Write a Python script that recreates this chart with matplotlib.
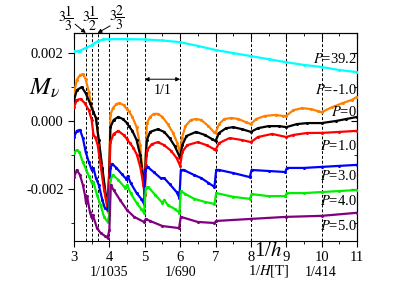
import numpy as np
import matplotlib
matplotlib.use("Agg")
import matplotlib.pyplot as plt
from matplotlib.ticker import MultipleLocator, FixedLocator

plt.rcParams['font.family'] = ['Liberation Serif', 'DejaVu Serif']
plt.rcParams['mathtext.fontset'] = 'stix'

# values, M in units of 1e-3
x_cyan = [3.0, 3.1, 3.17, 3.33, 3.5, 3.67, 3.83, 4.0, 4.5, 5.0, 5.5, 6.0, 6.5, 7.0, 7.5, 8.0, 8.5, 9.0, 9.5, 10.0, 10.5, 11.0]
m_cyan = [2.06, 2.05, 2.07, 2.15, 2.23, 2.35, 2.40, 2.41, 2.41, 2.40, 2.37, 2.32, 2.21, 2.09, 2.00, 1.91, 1.82, 1.73, 1.65, 1.59, 1.50, 1.44]

x_orange = [3.0, 3.08, 3.17, 3.25, 3.33, 3.42, 3.5, 3.55, 3.62, 3.7, 3.8, 3.9, 3.95, 3.99,
            4.03, 4.1, 4.2, 4.28, 4.4, 4.5, 4.55, 4.65, 4.77, 4.87, 4.95, 5.0,
            5.03, 5.06, 5.15, 5.25, 5.37, 5.5, 5.65, 5.8, 5.92, 6.0,
            6.05, 6.15, 6.3, 6.45, 6.6, 6.8, 6.95, 7.0,
            7.1, 7.25, 7.45, 7.65, 7.85, 8.0, 8.15, 8.4, 8.7, 8.9, 9.0,
            9.2, 9.45, 9.7, 9.9, 10.0, 10.3, 10.6, 10.85, 11.0]
m_orange = [0.82, 1.21, 1.35, 1.38, 1.23, 0.85, 0.38, 0.26, 0.09, -0.56, -1.44, -2.32, -2.68, -1.60,
            0.18, 0.38, 0.50, 0.53, 0.47, 0.35, 0.29, 0.12, -0.18, -0.71, -1.59, -2.12,
            -1.00, -0.06, 0.12, 0.21, 0.21, 0.12, -0.09, -0.35, -0.65, -0.94,
            -0.50, -0.15, 0.03, 0.06, 0.03, -0.15, -0.32, -0.35,
            -0.09, 0.06, 0.09, 0.06, -0.03, -0.09, 0.06, 0.15, 0.18, 0.15, 0.15,
            0.32, 0.38, 0.35, 0.29, 0.26, 0.41, 0.53, 0.62, 0.71]

x_black = [3.0, 3.08, 3.22, 3.33, 3.45, 3.55, 3.62, 3.7, 3.8, 3.9, 3.95, 4.0,
           4.03, 4.12, 4.25, 4.38, 4.5, 4.55, 4.65, 4.77, 4.87, 4.95, 5.0,
           5.03, 5.06, 5.15, 5.37, 5.55, 5.7, 5.85, 6.0,
           6.06, 6.18, 6.45, 6.7, 6.9, 7.0, 7.1, 7.3, 7.5, 7.75, 8.0,
           8.2, 8.5, 8.8, 9.0, 9.3, 9.6, 10.0, 10.4, 10.7, 11.0]
m_black = [0.62, 0.91, 1.00, 0.82, 0.53, 0.26, 0.09, -0.56, -1.38, -2.18, -2.47, -1.44,
           -0.18, 0.03, 0.12, 0.06, -0.06, -0.15, -0.29, -0.56, -1.00, -1.59, -1.97,
           -1.00, -0.56, -0.32, -0.24, -0.32, -0.50, -0.74, -1.09,
           -0.71, -0.44, -0.32, -0.41, -0.53, -0.59, -0.35, -0.21, -0.18, -0.24, -0.32,
           -0.21, -0.15, -0.15, -0.18, -0.09, -0.06, -0.06, 0.0, 0.06, 0.12]

x_red = [3.0, 3.08, 3.19, 3.3, 3.42, 3.5, 3.55, 3.6, 3.67, 3.75, 3.85, 3.95, 4.0,
         4.03, 4.12, 4.25, 4.4, 4.5, 4.58, 4.68, 4.78, 4.88, 4.96, 5.0,
         5.03, 5.07, 5.2, 5.37, 5.55, 5.75, 5.9, 6.0,
         6.06, 6.2, 6.5, 6.75, 6.95, 7.0, 7.1, 7.4, 7.75, 8.0,
         8.2, 8.6, 9.0, 9.2, 9.6, 10.0, 10.5, 11.0]
m_red = [0.41, 0.62, 0.65, 0.53, 0.32, 0.03, -0.41, -0.47, -0.71, -1.29, -2.03, -2.53, -1.59,
         -0.62, -0.38, -0.29, -0.41, -0.53, -0.65, -0.79, -1.00, -1.38, -1.88, -2.18,
         -1.29, -0.85, -0.68, -0.62, -0.71, -0.88, -1.09, -1.32,
         -0.91, -0.71, -0.62, -0.71, -0.82, -0.85, -0.65, -0.50, -0.56, -0.62,
         -0.47, -0.38, -0.47, -0.41, -0.35, -0.35, -0.32, -0.29]

x_blue = [3.0, 3.08, 3.17, 3.25, 3.33, 3.42, 3.5, 3.55, 3.62, 3.7, 3.8, 3.87, 3.95, 4.0,
          4.03, 4.08, 4.2, 4.35, 4.48, 4.52, 4.6, 4.77, 4.9, 4.98,
          5.02, 5.08, 5.25, 5.45, 5.55, 5.7, 5.9, 5.98,
          6.02, 6.1, 6.4, 6.6, 6.8, 6.97, 7.02, 7.1, 7.5, 7.97,
          8.02, 8.5, 8.97, 9.02, 9.5, 10.0, 10.5, 11.0]
m_blue = [-0.47, -0.29, -0.26, -0.50, -0.91, -1.21, -1.44, -1.38, -1.68, -1.88, -2.32, -2.56, -2.62, -2.32,
          -1.38, -1.26, -1.38, -1.56, -1.71, -1.62, -1.82, -2.12, -2.29, -2.44,
          -1.44, -1.35, -1.50, -1.68, -1.68, -1.85, -2.09, -2.26,
          -1.44, -1.44, -1.59, -1.68, -1.82, -1.94, -1.44, -1.44, -1.53, -1.65,
          -1.44, -1.47, -1.50, -1.38, -1.38, -1.35, -1.32, -1.29]

x_green = [3.0, 3.08, 3.15, 3.25, 3.35, 3.42, 3.5, 3.55, 3.65, 3.75, 3.85, 3.95, 4.0,
           4.03, 4.1, 4.25, 4.45, 4.5, 4.6, 4.77, 4.9, 4.98,
           5.03, 5.1, 5.3, 5.5, 5.55, 5.65, 5.85, 5.98,
           6.02, 6.15, 6.4, 6.7, 6.97, 7.02, 7.5, 7.97,
           8.02, 8.5, 8.97, 9.02, 9.5, 10.0, 10.5, 11.0]
m_green = [-0.94, -0.85, -0.91, -1.21, -1.44, -1.62, -1.82, -1.79, -2.18, -2.47, -2.82, -2.97, -2.76,
           -1.73, -1.59, -1.73, -1.97, -1.88, -2.12, -2.41, -2.59, -2.70,
           -1.97, -1.94, -2.18, -2.41, -2.32, -2.47, -2.59, -2.70,
           -2.06, -2.15, -2.29, -2.38, -2.44, -2.12, -2.23, -2.29,
           -2.15, -2.21, -2.21, -2.12, -2.12, -2.09, -2.06, -2.03]

x_purple = [3.0, 3.08, 3.17, 3.25, 3.31, 3.34, 3.37, 3.45, 3.5, 3.53, 3.65, 3.75, 3.87, 3.95, 4.0,
            4.04, 4.12, 4.3, 4.5, 4.7, 4.98, 5.03, 5.15, 5.5, 5.97,
            6.02, 6.5, 6.97, 7.02, 8.0, 9.0, 10.0, 11.0]
m_purple = [-1.65, -1.44, -1.59, -1.88, -2.18, -2.41, -2.21, -2.68, -2.85, -2.76, -3.15, -3.29, -3.38, -3.44, -3.20,
            -1.88, -2.03, -2.32, -2.62, -2.82, -2.97, -2.88, -2.94, -3.09, -3.15,
            -2.82, -2.97, -3.00, -2.94, -2.88, -2.82, -2.79, -2.70]

curves = [
    (x_cyan, m_cyan, '#00ffff', 'P=39.2', 1.82),
    (x_orange, m_orange, '#ff8000', 'P=-1.0', 0.91),
    (x_black, m_black, 'black', 'P=0', 0.26),
    (x_red, m_red, '#ff0000', 'P=1.0', -0.74),
    (x_blue, m_blue, '#0000ff', 'P=3.0', -1.62),
    (x_green, m_green, '#00ee00', 'P=4.0', -2.35),
    (x_purple, m_purple, '#800080', 'P=5.0', -3.09),
]

level_lines = [3 + 1/3, 3.5, 3 + 2/3, 4, 4.5, 5, 6, 7, 8, 9, 10]
x_major = list(range(3, 12))
y_major = [-0.002, 0.0, 0.002]
y_minor = [-0.003, -0.001, 0.001]

fig = plt.figure(figsize=(4.15, 2.9), dpi=100)
ax = fig.add_axes([74/415, 1 - 241/290, 283/415, 208/290])

for xv in level_lines:
    ax.axvline(xv, color='black', lw=0.7, ls=(0, (3, 2)), zorder=1)

for xs, ms, col, lab, ylab in curves:
    ax.plot(xs, np.array(ms) * 1e-3, color=col, lw=1.6, marker='o', ms=1.2, zorder=3)
    ax.text(11.0, ylab * 1e-3, '$P$' + lab[1:], ha='right', va='center', fontsize=10.5, zorder=4)

ax.set_xlim(3, 11)
ax.set_ylim(-3.53e-3, 2.59e-3)
ax.xaxis.set_major_locator(FixedLocator(x_major))
ax.xaxis.set_minor_locator(MultipleLocator(0.5))
ax.set_xticklabels([str(i) for i in x_major])
ax.yaxis.set_major_locator(FixedLocator(y_major))
ax.yaxis.set_minor_locator(FixedLocator(y_minor))
ax.set_yticklabels(['-0.002', '0.000', '0.002'])
ax.tick_params(which='both', direction='out', labelsize=10.5, top=False, right=False)
ax.tick_params(which='major', length=4)
ax.tick_params(which='minor', length=2.5)

sx = ax.secondary_xaxis('top')
sx.xaxis.set_major_locator(FixedLocator(x_major))
sx.xaxis.set_minor_locator(MultipleLocator(0.5))
sx.tick_params(which='both', direction='in', labeltop=False)
sx.tick_params(which='major', length=4)
sx.tick_params(which='minor', length=2.5)
sy = ax.secondary_yaxis('right')
sy.yaxis.set_major_locator(FixedLocator(y_major))
sy.yaxis.set_minor_locator(FixedLocator(y_minor))
sy.tick_params(which='both', direction='in', labelright=False)
sy.tick_params(which='major', length=4)
sy.tick_params(which='minor', length=2.5)

# fraction labels above the plot
fig.text(66/415, 1 - 18/290, r'$3\dfrac{1}{3}$', ha='center', va='center', fontsize=10)
fig.text(90/415, 1 - 18/290, r'$3\dfrac{1}{2}$', ha='center', va='center', fontsize=10)
fig.text(117/415, 1 - 18/290, r'$3\dfrac{2}{3}$', ha='center', va='center', fontsize=10)
ax.annotate('', xy=(3 + 1/3, 2.59e-3), xytext=(3.03, 2.85e-3), annotation_clip=False,
            arrowprops=dict(arrowstyle='-|>', color='black', lw=0.7, mutation_scale=6,
                            shrinkA=0, shrinkB=0))
ax.annotate('', xy=(3 + 2/3, 2.59e-3), xytext=(4.02, 2.80e-3), annotation_clip=False,
            arrowprops=dict(arrowstyle='-|>', color='black', lw=0.7, mutation_scale=6,
                            shrinkA=0, shrinkB=0))

# period marker
ax.annotate('', xy=(5, 1.23e-3), xytext=(6, 1.23e-3),
            arrowprops=dict(arrowstyle='<|-|>', color='black', lw=0.7, mutation_scale=6,
                            shrinkA=0, shrinkB=0))
ax.text(5.5, 0.91e-3, '1/1', ha='center', va='center', fontsize=10)

fig.text(45/415, 1 - 88/290, r'$M_\nu$', ha='center', va='center', fontsize=18)
fig.text(268/415, 1 - 252/290, r'1/$h$', ha='center', va='center', fontsize=15)
fig.text(269/415, 1 - 271/290, r'1/$H$[T]', ha='center', va='center', fontsize=10.5)
fig.text(109/415, 1 - 272/290, '1/1035', ha='center', va='center', fontsize=10)
fig.text(181/415, 1 - 272/290, '1/690', ha='center', va='center', fontsize=10)
fig.text(321/415, 1 - 272/290, '1/414', ha='center', va='center', fontsize=10)

fig.savefig('out.png', dpi=100)
